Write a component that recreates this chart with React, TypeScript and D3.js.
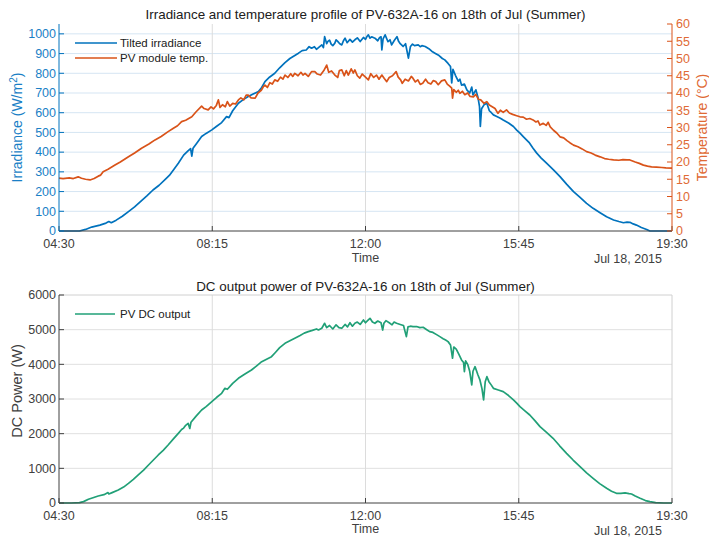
import React from "react";
import * as d3 from "d3";

// ---------- data (time in decimal hours, 18 Jul 2015) ----------
const X_TICKS = ["04:30", "08:15", "12:00", "15:45", "19:30"];
const IRR_TICKS = [0, 100, 200, 300, 400, 500, 600, 700, 800, 900, 1000];
const TEMP_TICKS = [0, 5, 10, 15, 20, 25, 30, 35, 40, 45, 50, 55, 60];
const POWER_TICKS = [0, 1000, 2000, 3000, 4000, 5000, 6000];

const irradiance: [number, number][] = [
  [4.5, 0], [4.75, 0], [5.0, 0], [5.15, 8], [5.3, 20], [5.5, 30], [5.65, 40], [5.72, 48], [5.78, 42], [5.9, 55],
  [6.05, 75], [6.2, 98], [6.35, 122], [6.5, 150], [6.65, 178], [6.8, 208], [6.95, 232], [7.1, 262], [7.2, 282], [7.3, 310],
  [7.42, 344], [7.55, 385], [7.65, 405], [7.72, 418], [7.75, 380], [7.78, 420], [7.88, 448], [7.99, 479], [8.1, 495], [8.24, 513],
  [8.35, 530], [8.48, 550], [8.6, 580], [8.66, 575], [8.75, 610], [8.89, 648], [9.0, 665], [9.13, 682], [9.25, 695], [9.38, 707],
  [9.46, 728], [9.54, 758], [9.65, 780], [9.78, 800], [9.9, 828], [10.03, 854], [10.15, 875], [10.25, 888], [10.36, 902], [10.45, 915],
  [10.55, 918], [10.62, 935], [10.68, 927], [10.75, 935], [10.8, 922], [10.85, 930], [10.93, 944], [10.97, 930], [11.0, 986], [11.05, 950],
  [11.08, 962], [11.12, 968], [11.16, 948], [11.2, 940], [11.25, 953], [11.28, 970], [11.32, 962], [11.37, 950], [11.42, 944], [11.46, 965],
  [11.5, 978], [11.55, 955], [11.62, 972], [11.68, 958], [11.74, 970], [11.8, 980], [11.87, 961], [11.95, 982], [12.0, 972], [12.04, 988],
  [12.07, 995], [12.11, 978], [12.15, 985], [12.23, 978], [12.3, 965], [12.34, 980], [12.38, 985], [12.4, 919], [12.43, 975], [12.48, 995],
  [12.55, 960], [12.6, 970], [12.64, 944], [12.7, 965], [12.77, 986], [12.81, 962], [12.85, 950], [12.92, 936], [12.98, 950], [13.05, 877],
  [13.1, 936], [13.15, 948], [13.2, 940], [13.29, 944], [13.34, 935], [13.38, 940], [13.46, 936], [13.55, 925], [13.62, 912], [13.7, 902],
  [13.8, 890], [13.88, 875], [13.94, 868], [14.02, 850], [14.08, 834], [14.11, 751], [14.14, 820], [14.2, 790], [14.27, 760], [14.31, 770],
  [14.35, 740], [14.42, 745], [14.48, 716], [14.55, 700], [14.6, 730], [14.63, 690], [14.7, 716], [14.75, 680], [14.79, 631], [14.81, 530],
  [14.84, 620], [14.9, 640], [14.97, 648], [15.03, 610], [15.08, 600], [15.13, 589], [15.2, 582], [15.3, 572], [15.37, 563], [15.5, 548],
  [15.62, 530], [15.7, 512], [15.78, 496], [15.86, 479], [16.0, 450], [16.1, 420], [16.19, 395], [16.3, 370], [16.43, 344], [16.6, 310],
  [16.76, 276], [16.92, 238], [17.09, 200], [17.25, 170], [17.41, 140], [17.57, 115], [17.74, 93], [17.9, 72], [18.07, 56], [18.2, 48],
  [18.31, 42], [18.4, 45], [18.47, 44], [18.55, 36], [18.63, 30], [18.75, 18], [18.88, 8], [18.96, 0], [19.5, 0],
];

const moduleTemp: [number, number][] = [
  [4.5, 15.3], [4.6, 15.2], [4.75, 15.4], [4.85, 15.2], [4.97, 15.7], [5.05, 15.3], [5.15, 15.0], [5.26, 14.8], [5.36, 15.2], [5.46, 15.9],
  [5.52, 16.2], [5.58, 17.2], [5.7, 17.9], [5.87, 19.1], [6.0, 20.0], [6.2, 21.5], [6.35, 22.6], [6.52, 24.0], [6.7, 25.2], [6.85, 26.4],
  [7.0, 27.4], [7.17, 28.8], [7.3, 29.8], [7.4, 30.5], [7.5, 31.7], [7.6, 32.1], [7.75, 33.1], [7.85, 34.5], [7.99, 36.2], [8.05, 35.5],
  [8.15, 35.1], [8.22, 36.0], [8.28, 35.4], [8.35, 36.4], [8.4, 38.0], [8.44, 35.8], [8.5, 36.6], [8.57, 36.0], [8.62, 37.5], [8.68, 36.2],
  [8.75, 37.0], [8.82, 36.8], [8.89, 38.0], [8.95, 38.6], [9.02, 38.0], [9.08, 39.4], [9.13, 39.4], [9.2, 38.6], [9.3, 38.5], [9.37, 40.0],
  [9.45, 40.8], [9.5, 41.8], [9.54, 42.3], [9.6, 41.6], [9.66, 43.0], [9.72, 42.6], [9.78, 43.8], [9.85, 43.4], [9.92, 44.6], [9.98, 44.0],
  [10.03, 45.2], [10.1, 44.5], [10.17, 45.6], [10.22, 44.8], [10.27, 45.7], [10.35, 45.0], [10.42, 46.0], [10.47, 45.2], [10.52, 45.7], [10.6, 44.8],
  [10.68, 46.2], [10.76, 46.2], [10.82, 45.5], [10.9, 45.2], [10.98, 46.5], [11.05, 48.1], [11.1, 46.0], [11.17, 46.4], [11.25, 45.2], [11.32, 44.5],
  [11.36, 46.5], [11.42, 46.7], [11.48, 45.0], [11.53, 46.5], [11.58, 45.2], [11.65, 47.0], [11.7, 45.8], [11.74, 46.7], [11.8, 45.0], [11.86, 44.3],
  [11.92, 45.5], [12.0, 44.6], [12.07, 43.8], [12.13, 45.6], [12.2, 44.5], [12.27, 45.2], [12.33, 44.0], [12.4, 45.2], [12.46, 44.2], [12.52, 43.3],
  [12.58, 44.5], [12.66, 45.0], [12.75, 46.2], [12.8, 44.6], [12.86, 43.8], [12.9, 42.8], [12.97, 44.0], [13.05, 43.5], [13.12, 44.8], [13.16, 44.3],
  [13.22, 43.2], [13.28, 43.8], [13.34, 42.5], [13.4, 42.8], [13.47, 44.0], [13.53, 43.0], [13.6, 42.6], [13.66, 43.6], [13.72, 43.3], [13.78, 42.4],
  [13.86, 43.5], [13.94, 43.8], [14.0, 42.6], [14.06, 42.0], [14.11, 41.4], [14.13, 38.5], [14.16, 41.0], [14.22, 40.2], [14.27, 40.8], [14.31, 39.9],
  [14.37, 40.5], [14.43, 39.5], [14.5, 40.0], [14.56, 39.0], [14.64, 38.9], [14.7, 39.6], [14.76, 38.2], [14.82, 38.0], [14.9, 37.0], [14.97, 37.5],
  [15.03, 36.5], [15.1, 36.0], [15.17, 35.5], [15.24, 34.1], [15.3, 35.0], [15.37, 34.4], [15.45, 35.1], [15.52, 34.2], [15.6, 33.8], [15.7, 33.4],
  [15.78, 33.1], [15.86, 33.0], [15.94, 32.4], [16.02, 32.6], [16.1, 32.2], [16.17, 31.6], [16.22, 31.9], [16.27, 30.7], [16.35, 31.2], [16.42, 30.6],
  [16.47, 31.5], [16.52, 30.2], [16.6, 29.2], [16.68, 28.4], [16.76, 27.3], [16.85, 27.0], [16.93, 26.2], [17.0, 25.6], [17.09, 24.9], [17.2, 24.4],
  [17.3, 23.8], [17.41, 23.0], [17.52, 22.6], [17.62, 22.0], [17.74, 21.5], [17.85, 21.0], [17.95, 20.8], [18.07, 20.6], [18.2, 20.5], [18.3, 20.7],
  [18.4, 20.6], [18.47, 20.6], [18.6, 20.0], [18.7, 19.6], [18.8, 19.1], [18.9, 18.8], [19.0, 18.6], [19.12, 18.5], [19.25, 18.4], [19.35, 18.3],
  [19.5, 18.2],
];

const dcPower: [number, number][] = [
  [4.5, 0], [4.8, 0], [5.0, 10], [5.1, 40], [5.22, 107], [5.35, 160], [5.46, 202], [5.6, 240], [5.7, 300], [5.72, 260],
  [5.8, 300], [5.95, 375], [6.08, 460], [6.2, 567], [6.32, 680], [6.44, 808], [6.57, 950], [6.69, 1096], [6.81, 1240], [6.93, 1385],
  [7.05, 1520], [7.17, 1673], [7.3, 1850], [7.42, 2010], [7.5, 2120], [7.55, 2160], [7.6, 2240], [7.66, 2299], [7.7, 2150], [7.73, 2330],
  [7.85, 2500], [7.99, 2683], [8.1, 2780], [8.24, 2923], [8.36, 3050], [8.48, 3164], [8.56, 3308], [8.62, 3280], [8.75, 3450], [8.89, 3597],
  [9.05, 3720], [9.21, 3837], [9.33, 3950], [9.46, 4077], [9.58, 4150], [9.7, 4221], [9.8, 4350], [9.9, 4480], [10.03, 4607], [10.15, 4680],
  [10.27, 4752], [10.4, 4830], [10.5, 4900], [10.6, 4943], [10.7, 4980], [10.8, 5020], [10.85, 4990], [10.93, 5040], [11.0, 5184], [11.05, 5060],
  [11.12, 5120], [11.2, 5020], [11.28, 5140], [11.35, 5060], [11.42, 5040], [11.5, 5150], [11.56, 5080], [11.62, 5200], [11.68, 5100], [11.74, 5184],
  [11.8, 5220], [11.87, 5150], [11.95, 5280], [12.0, 5200], [12.05, 5260], [12.11, 5328], [12.17, 5220], [12.23, 5184], [12.3, 5250], [12.38, 5200],
  [12.42, 4990], [12.45, 5184], [12.5, 5260], [12.58, 5200], [12.65, 5140], [12.7, 5220], [12.76, 5184], [12.85, 5150], [12.93, 5120], [13.0, 4799],
  [13.04, 5080], [13.1, 5100], [13.16, 5088], [13.25, 5090], [13.33, 5060], [13.41, 5070], [13.5, 5000], [13.57, 4943], [13.65, 4920], [13.75, 4850],
  [13.82, 4799], [13.9, 4740], [13.96, 4700], [14.02, 4655], [14.08, 4560], [14.13, 4175], [14.16, 4500], [14.22, 4440], [14.28, 4300], [14.35, 4126],
  [14.4, 4050], [14.42, 3789], [14.45, 4100], [14.5, 4000], [14.55, 3800], [14.6, 3404], [14.63, 3800], [14.68, 3933], [14.75, 3700], [14.8, 3550],
  [14.85, 3300], [14.89, 2972], [14.93, 3500], [14.97, 3644], [15.02, 3500], [15.08, 3400], [15.13, 3308], [15.25, 3260], [15.37, 3212], [15.5, 3100],
  [15.62, 2972], [15.7, 2880], [15.78, 2779], [15.9, 2660], [16.02, 2539], [16.15, 2370], [16.27, 2202], [16.43, 2040], [16.59, 1866], [16.75, 1650],
  [16.92, 1433], [17.08, 1240], [17.25, 1048], [17.41, 870], [17.57, 712], [17.73, 560], [17.9, 424], [18.02, 340], [18.14, 279], [18.25, 280],
  [18.35, 290], [18.45, 270], [18.51, 260], [18.6, 200], [18.72, 135], [18.85, 70], [18.96, 38], [19.1, 10], [19.3, 0], [19.5, 0],
];

const TOP_TITLE = "Irradiance and temperature profile of PV-632A-16 on 18th of Jul (Summer)";
const BOTTOM_TITLE = "DC output power of PV-632A-16 on 18th of Jul (Summer)";
const DATE_LABEL = "Jul 18, 2015";

// ---------- styling ----------
const W = 709;
const H = 538;
const FONT = "'Liberation Sans', Arial, Helvetica, sans-serif";
const BLUE = "#0072BD";
const BLUE_TXT = "#1a7fc6";
const ORANGE = "#D95319";
const ORANGE_TXT = "#e06a35";
const GREEN = "#21A077";
const AXIS = "#404040";
const TEXT = "#404040";

const hm = (s: string) => {
  const [h, m] = s.split(":").map(Number);
  return h + m / 60;
};

export default function App() {
  const x = d3.scaleLinear().domain([4.5, 19.5]).range([59, 672]);
  const yIrr = d3.scaleLinear().domain([0, 1050]).range([231, 24]);
  const yTemp = d3.scaleLinear().domain([0, 60]).range([231, 24]);
  const yPow = d3.scaleLinear().domain([0, 6000]).range([503, 295]);

  const mk = (ys: d3.ScaleLinear<number, number>) =>
    d3.line<[number, number]>().x((d) => x(d[0])).y((d) => ys(d[1]));

  const [x0, x1] = x.range();
  const topBottom = yIrr(0);
  const topTop = yIrr.range()[1];
  const botBottom = yPow(0);
  const botTop = yPow(6000);
  const cx = (x0 + x1) / 2;
  const TL = 5;
  const TICK_FS = 12.5;

  return (
    <svg
      width={W}
      height={H}
      style={{ position: "absolute", left: 0, top: 0, background: "#fff" }}
      fontFamily={FONT}
    >
      <rect x={0} y={0} width={W} height={H} fill="#fff" />

      {/* ===== TOP PANEL ===== */}
      {IRR_TICKS.filter((v) => v > 0).map((v) => (
        <line key={"gi" + v} x1={x0} x2={x1} y1={yIrr(v)} y2={yIrr(v)} stroke="#d5e5f3" strokeWidth={1} />
      ))}
      {X_TICKS.slice(1, -1).map((t) => (
        <line key={"gx" + t} x1={x(hm(t))} x2={x(hm(t))} y1={topTop} y2={topBottom} stroke="#dcdcdc" strokeWidth={1} />
      ))}

      <path d={mk(yIrr)(irradiance) || ""} fill="none" stroke={BLUE} strokeWidth={1.7} strokeLinejoin="round" />
      <path d={mk(yTemp)(moduleTemp) || ""} fill="none" stroke={ORANGE} strokeWidth={1.7} strokeLinejoin="round" />

      <line x1={x0} x2={x1} y1={topBottom} y2={topBottom} stroke={AXIS} strokeWidth={1} />
      {X_TICKS.map((t) => (
        <g key={"tx" + t}>
          <line x1={x(hm(t))} x2={x(hm(t))} y1={topBottom} y2={topBottom - TL} stroke={AXIS} />
          <text x={x(hm(t))} y={248} textAnchor="middle" fontSize={TICK_FS} fill={TEXT}>{t}</text>
        </g>
      ))}
      <text x={cx} y={262} textAnchor="middle" fontSize={12.5} fill={TEXT}>Time</text>
      <text x={662} y={263} textAnchor="end" fontSize={12.5} fill={TEXT}>{DATE_LABEL}</text>

      <line x1={x0} x2={x0} y1={topTop} y2={topBottom} stroke={BLUE} strokeWidth={1} />
      {IRR_TICKS.map((v) => (
        <g key={"ly" + v}>
          <line x1={x0} x2={x0 + TL} y1={yIrr(v)} y2={yIrr(v)} stroke={BLUE} />
          <text x={x0 - 3} y={yIrr(v) + 4.3} textAnchor="end" fontSize={TICK_FS} fill={BLUE_TXT}>{v}</text>
        </g>
      ))}
      <text transform={`translate(22,${(topTop + topBottom) / 2}) rotate(-90)`} textAnchor="middle" fontSize={14} fill={BLUE_TXT}>
        Irradiance (W/m<tspan dy={-5.5} fontSize={10}>2</tspan><tspan dy={5.5}>)</tspan>
      </text>

      <line x1={x1} x2={x1} y1={topTop} y2={topBottom} stroke={ORANGE} strokeWidth={1} />
      {TEMP_TICKS.map((v) => (
        <g key={"ry" + v}>
          <line x1={x1} x2={x1 - TL} y1={yTemp(v)} y2={yTemp(v)} stroke={ORANGE} />
          <text x={x1 + 4} y={yTemp(v) + 4.3} textAnchor="start" fontSize={TICK_FS} fill={ORANGE_TXT}>{v}</text>
        </g>
      ))}
      <text transform={`translate(707,${(topTop + topBottom) / 2}) rotate(-90)`} textAnchor="middle" fontSize={14} fill={ORANGE_TXT}>
        Temperature (°C)
      </text>

      <text x={cx} y={19} textAnchor="middle" fontSize={13.4} fill="#202020">{TOP_TITLE}</text>

      <line x1={75} x2={117} y1={43} y2={43} stroke={BLUE} strokeWidth={1.7} />
      <text x={120} y={47} fontSize={11.5} fill="#202020">Tilted irradiance</text>
      <line x1={75} x2={117} y1={58} y2={58} stroke={ORANGE} strokeWidth={1.7} />
      <text x={120} y={62} fontSize={11.5} fill="#202020">PV module temp.</text>

      {/* ===== BOTTOM PANEL ===== */}
      {POWER_TICKS.filter((v) => v > 0 && v < 6000).map((v) => (
        <line key={"gp" + v} x1={x0} x2={x1} y1={yPow(v)} y2={yPow(v)} stroke="#e0e0e0" strokeWidth={1} />
      ))}
      {X_TICKS.slice(1, -1).map((t) => (
        <line key={"gx2" + t} x1={x(hm(t))} x2={x(hm(t))} y1={botTop} y2={botBottom} stroke="#dcdcdc" strokeWidth={1} />
      ))}
      <line x1={x0} x2={x1} y1={botTop} y2={botTop} stroke="#d0d0d0" strokeWidth={1} />
      <line x1={x1} x2={x1} y1={botTop} y2={botBottom} stroke="#d0d0d0" strokeWidth={1} />

      <path d={mk(yPow)(dcPower) || ""} fill="none" stroke={GREEN} strokeWidth={1.7} strokeLinejoin="round" />

      <line x1={x0} x2={x1} y1={botBottom} y2={botBottom} stroke={AXIS} strokeWidth={1} />
      {X_TICKS.map((t) => (
        <g key={"tx2" + t}>
          <line x1={x(hm(t))} x2={x(hm(t))} y1={botBottom} y2={botBottom - TL} stroke={AXIS} />
          <text x={x(hm(t))} y={520} textAnchor="middle" fontSize={TICK_FS} fill={TEXT}>{t}</text>
        </g>
      ))}
      <text x={cx} y={533} textAnchor="middle" fontSize={12.5} fill={TEXT}>Time</text>
      <text x={662} y={535} textAnchor="end" fontSize={12.5} fill={TEXT}>{DATE_LABEL}</text>

      <line x1={x0} x2={x0} y1={botTop} y2={botBottom} stroke={AXIS} strokeWidth={1} />
      {POWER_TICKS.map((v) => (
        <g key={"py" + v}>
          <line x1={x0} x2={x0 + TL} y1={yPow(v)} y2={yPow(v)} stroke={AXIS} />
          <text x={x0 - 3} y={yPow(v) + 4.3} textAnchor="end" fontSize={TICK_FS} fill={TEXT}>{v}</text>
        </g>
      ))}
      <text transform={`translate(22,${(botTop + botBottom) / 2 - 8}) rotate(-90)`} textAnchor="middle" fontSize={14.5} fill={TEXT}>
        DC Power (W)
      </text>

      <text x={cx} y={291} textAnchor="middle" fontSize={13.4} fill="#202020">{BOTTOM_TITLE}</text>

      <line x1={75} x2={115} y1={314} y2={314} stroke={GREEN} strokeWidth={1.7} />
      <text x={120} y={318} fontSize={11.5} fill="#202020">PV DC output</text>
    </svg>
  );
}
